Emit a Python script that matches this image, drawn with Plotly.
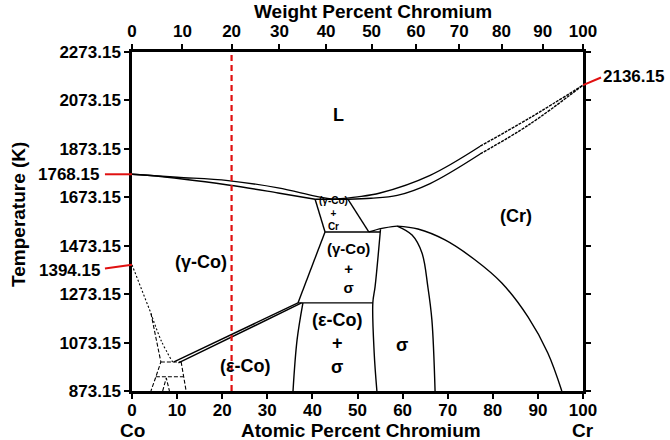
import plotly.graph_objects as go

# ---------------- data ----------------
M_CO, M_CR = 58.933, 51.996          # atomic masses used for wt% -> at% conversion
atomic_ticks = list(range(0, 101, 10))
weight_ticks = list(range(0, 101, 10))
temp_ticks = [873.15, 1073.15, 1273.15, 1473.15, 1673.15, 1873.15, 2073.15, 2273.15]
temp_labels = ["873.15", "1073.15", "1273.15", "1473.15", "1673.15", "1873.15", "2073.15", "2273.15"]
alloy_wt = 20                          # red dashed composition (wt% Cr)

# phase boundaries (at% Cr, K)
liq_co_x = [0, 10, 21.3, 32.4, 40.6, 44.5]
liq_co_t = [1768.15, 1756, 1742, 1712, 1678, 1665]
sol_co_x = [0, 3.5, 21.3, 32.4, 40.6]
sol_co_t = [1768.15, 1764, 1724, 1691, 1665]
liq_cr_x = [44.5, 50, 55, 66.1, 77.2]
liq_cr_t = [1665, 1675, 1691, 1764, 1884]
liq_cr_dash_x = [77.2, 88.2, 100]
liq_cr_dash_t = [1884, 2001, 2136.15]
sol_cr_x = [47.9, 53, 58.8, 66.1, 77.2]
sol_cr_t = [1665, 1669, 1681, 1730, 1852]
sol_cr_dash_x = [77.2, 88.2, 100]
sol_cr_dash_t = [1852, 1975, 2136.15]

eut_x = [40.6, 47.9]
eut_t = [1665, 1665]
tri_left_x = [40.6, 42.8]
tri_left_t = [1665, 1530]
tri_right_x = [47.9, 52.5]
tri_right_t = [1665, 1530]
h1530_x = [42.8, 55.0]
h1530_t = [1530, 1530]
gs_left_x = [42.8, 36.8]
gs_left_t = [1530, 1237]
h1237_x = [36.8, 53.4]
h1237_t = [1237, 1237]
sig_left_x = [55.1, 53.9, 53.4, 53.7, 54.3]
sig_left_t = [1541, 1304, 1237, 1030, 873.15]
sig_top_x = [52.5, 55.4, 58.8]
sig_top_t = [1530, 1545, 1554]
sig_right_x = [58.8, 62.1, 64.3, 65.6, 66.5, 67.2]
sig_right_t = [1554, 1517, 1443, 1303, 1166, 873.15]
cr_solvus_x = [58.8, 63.4, 69.4, 76.1, 82.0, 87.8, 92.2, 95.3]
cr_solvus_t = [1554, 1542, 1497, 1414, 1319, 1179, 1030, 873.15]
eps_x = [37.9, 36.6, 35.7]
eps_t = [1237, 1084, 873.15]
ge1_x = [9.3, 36.8]
ge1_t = [993, 1237]
ge2_x = [10.3, 37.6]
ge2_t = [989, 1237]

# low-temperature dashed constructions (Co-rich corner)
dot1_x = [0, 4.2]
dot1_t = [1394.15, 1194]
dot2_x = [4.2, 6.5, 9.0]
dot2_t = [1194, 1080, 993]
d_left_x = [4.2, 6.4, 5.3, 4.2]
d_left_t = [1194, 993, 932, 873.15]
d_h1_x = [6.4, 10.9]
d_h1_t = [993, 993]
d_right_x = [10.9, 11.4, 12.0]
d_right_t = [993, 932, 873.15]
d_h2_x = [5.3, 11.4]
d_h2_t = [932, 932]
d_v_x = [6.8, 7.6, 8.3]
d_v_t = [873.15, 927, 873.15]


def wt_to_at(w):
    if w <= 0:
        return 0.0
    if w >= 100:
        return 100.0
    a = w / M_CR
    b = (100 - w) / M_CO
    return 100 * a / (a + b)


FONT = "Liberation Sans, Arial, sans-serif"
fig = go.Figure()


def add_line(x, y, dash="solid", shape="linear", width=1.4, color="black"):
    fig.add_trace(go.Scatter(x=x, y=y, mode="lines",
                             line=dict(color=color, width=width, dash=dash, shape=shape,
                                       smoothing=1.0 if shape == "spline" else None),
                             hoverinfo="skip", showlegend=False, cliponaxis=False))


for xs, ts in [(liq_co_x, liq_co_t), (sol_co_x, sol_co_t), (liq_cr_x, liq_cr_t), (sol_cr_x, sol_cr_t),
               (sig_left_x, sig_left_t), (sig_top_x, sig_top_t), (sig_right_x, sig_right_t),
               (cr_solvus_x, cr_solvus_t), (eps_x, eps_t)]:
    add_line(xs, ts, shape="spline")
for xs, ts in [(liq_cr_dash_x, liq_cr_dash_t), (sol_cr_dash_x, sol_cr_dash_t)]:
    add_line(xs, ts, dash="3px,1px", shape="spline")
for xs, ts in [(eut_x, eut_t), (tri_left_x, tri_left_t), (tri_right_x, tri_right_t), (h1530_x, h1530_t),
               (gs_left_x, gs_left_t), (h1237_x, h1237_t), (ge1_x, ge1_t), (ge2_x, ge2_t)]:
    add_line(xs, ts)
add_line(dot1_x, dot1_t, dash="2px,2px", width=1.1)
add_line(dot2_x, dot2_t, dash="2px,2px", width=1.1, shape="spline")
for xs, ts in [(d_left_x, d_left_t), (d_h1_x, d_h1_t), (d_right_x, d_right_t), (d_h2_x, d_h2_t), (d_v_x, d_v_t)]:
    add_line(xs, ts, dash="4px,2px", width=1.1)

# red dashed alloy line
xa = wt_to_at(alloy_wt)
fig.add_trace(go.Scatter(x=[xa, xa], y=[temp_ticks[0], temp_ticks[-1]], mode="lines",
                         line=dict(color="#e01010", width=2.2, dash="6px,4px"),
                         hoverinfo="skip", showlegend=False))

# invisible trace for top axis
fig.add_trace(go.Scatter(x=[0, 100], y=[temp_ticks[0], temp_ticks[0]], xaxis="x2", mode="lines",
                         line=dict(width=0), opacity=0, hoverinfo="skip", showlegend=False))

tickfont = dict(family=FONT, size=17, color="black", weight="bold")
axis_common = dict(showgrid=False, zeroline=False, showline=True, linecolor="black", linewidth=2.5,
                   ticks="outside", ticklen=5, tickwidth=2, tickcolor="black", tickfont=tickfont)

fig.update_layout(
    width=670, height=440,
    margin=dict(l=132, r=87, t=52, b=49),
    plot_bgcolor="white", paper_bgcolor="white",
    xaxis=dict(range=[0, 100], tickvals=atomic_ticks, ticktext=[str(v) for v in atomic_ticks],
               ticklabelstandoff=-3, **axis_common),
    xaxis2=dict(range=[0, 100], overlaying="x", side="top",
                tickvals=[wt_to_at(w) for w in weight_ticks], ticktext=[str(w) for w in weight_ticks],
                **axis_common),
    yaxis=dict(range=[temp_ticks[0], temp_ticks[-1]], tickvals=temp_ticks, ticktext=temp_labels,
               mirror="ticks", **axis_common),
)

ann = []
title_font = dict(family=FONT, size=19, color="black", weight="bold")
ann.append(dict(text="Weight Percent Chromium", x=0.535, y=1.12, xref="paper", yref="paper",
                showarrow=False, font=title_font, xanchor="center", yanchor="middle"))
ann.append(dict(text="Atomic Percent Chromium", x=0.508, y=-0.117, xref="paper", yref="paper",
                showarrow=False, font=title_font, xanchor="center", yanchor="middle"))
ann.append(dict(text="Temperature (K)", x=-0.253, y=0.522, xref="paper", yref="paper", textangle=-90,
                showarrow=False, font=title_font, xanchor="center", yanchor="middle"))
ann.append(dict(text="Co", x=0, y=-0.116, xref="x", yref="paper", showarrow=False, font=title_font,
                xanchor="center", yanchor="middle"))
ann.append(dict(text="Cr", x=100, y=-0.116, xref="x", yref="paper", showarrow=False, font=title_font,
                xanchor="center", yanchor="middle"))

# special temperature labels
ann.append(dict(text="1768.15", x=-0.068, y=1768.15, xref="paper", yref="y", showarrow=False,
                font=tickfont, xanchor="right", yanchor="middle"))
ann.append(dict(text="1394.15", x=-0.066, y=1372, xref="paper", yref="y", showarrow=False,
                font=tickfont, xanchor="right", yanchor="middle"))
ann.append(dict(text="2136.15", x=1.04, y=2170, xref="paper", yref="y", showarrow=False,
                font=tickfont, xanchor="left", yanchor="middle"))

shapes = [
    dict(type="line", xref="paper", yref="y", x0=-0.06, x1=0, y0=1768.15, y1=1768.15,
         line=dict(color="#e01010", width=2)),
    dict(type="line", xref="paper", yref="y", x0=-0.06, x1=0, y0=1379, y1=1394.15,
         line=dict(color="#e01010", width=2)),
    dict(type="line", xref="paper", yref="y", x0=1.0, x1=1.04, y0=2136.15, y1=2168,
         line=dict(color="#e01010", width=2)),
]

lab = dict(family=FONT, size=18, color="black", weight="bold")
small = dict(family=FONT, size=10, color="black", weight="bold")
region_labels = [
    ("L", 45.7, 2015, lab),
    ("(Cr)", 85.1, 1596, lab),
    ("(γ-Co)", 15.3, 1406, lab),
    ("(γ-Co)<br>+<br>σ", 48.0, 1380, dict(family=FONT, size=15, color="black", weight="bold")),
    ("(ε-Co)", 25.1, 976, lab),
    ("(ε-Co)<br>+<br>σ", 45.5, 1071, lab),
    ("σ", 59.9, 1063, lab),
    ("(γ-Co)<br>+<br>Cr", 44.7, 1605, small),
]
for t, x, y, f in region_labels:
    ann.append(dict(text=t, x=x, y=y, xref="x", yref="y", showarrow=False, font=f,
                    xanchor="center", yanchor="middle"))

fig.update_layout(annotations=ann, shapes=shapes)
fig.write_html("out.html")
